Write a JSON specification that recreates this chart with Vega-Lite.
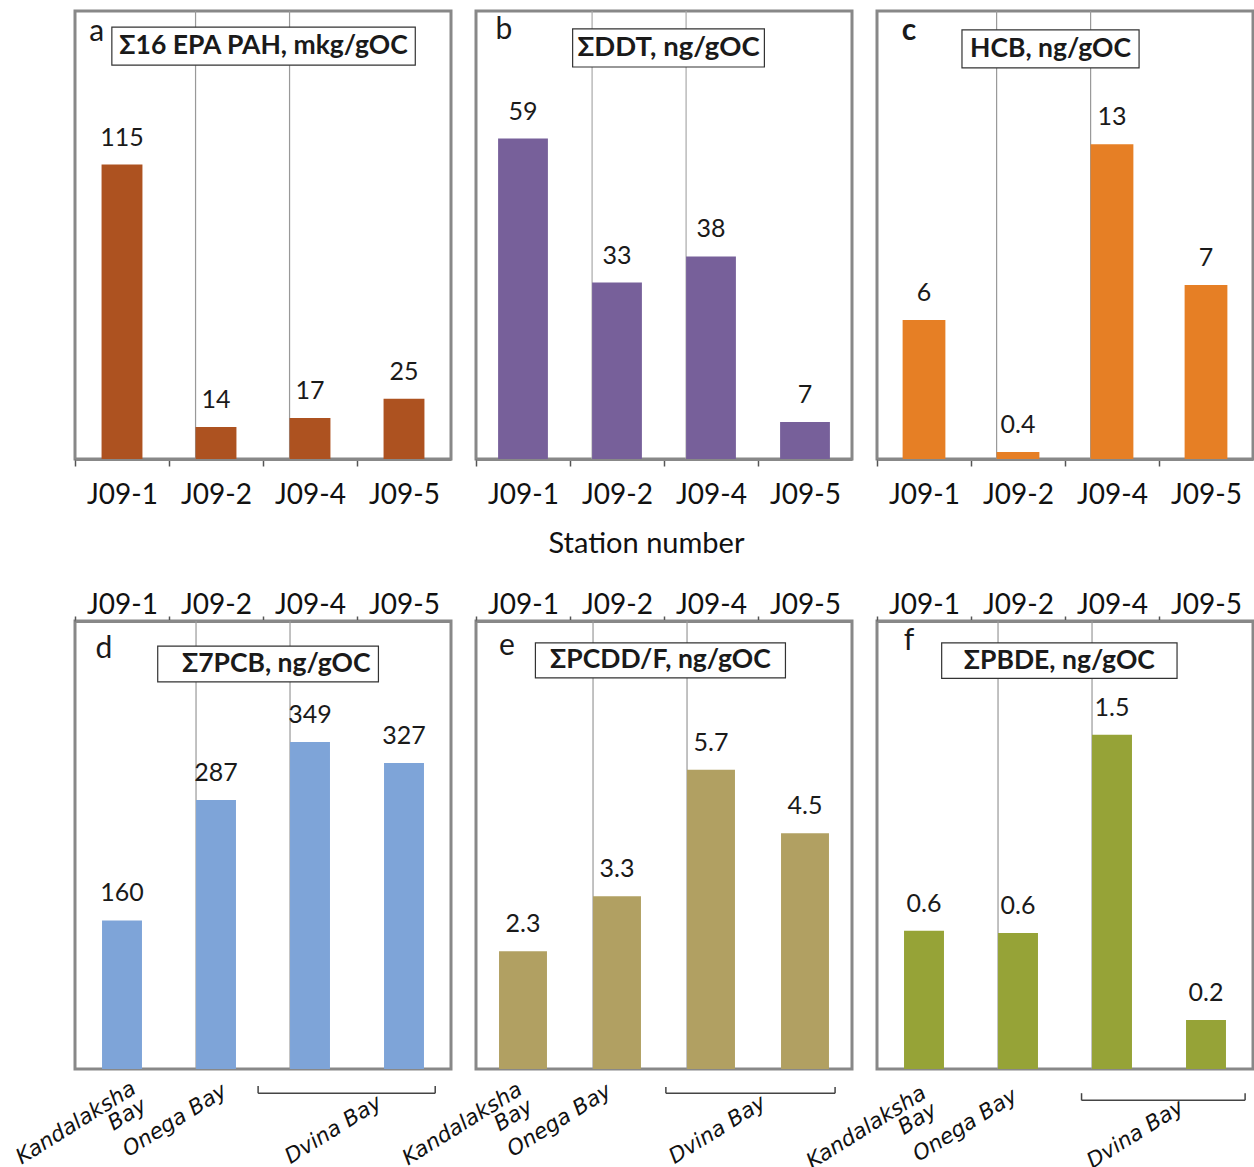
{
  "$schema": "https://vega.github.io/schema/vega-lite/v6.json",
  "background": "white",
  "padding": {"left": 11, "top": 8, "right": 0, "bottom": 0},
  "config": {
    "font": "Lato",
    "view": {"stroke": "#888888", "strokeWidth": 3},
    "axis": {"domainColor": "#888888", "domainWidth": 3, "tickColor": "#555555", "tickWidth": 1.5, "tickSize": 7, "bandPosition": 0, "labelFontSize": 28, "labelColor": "#111111", "labelFont": "Lato", "labelAlign": "center", "grid": false},
    "text": {"color": "#1a1a1a", "font": "Lato"}
  },
  "columns": 3,
  "spacing": {"row": 162, "column": 25},
  "bounds": "flush",
  "concat": [
        {
          "width": 376, "height": 448,
          "data": {"values": [
            {"station": "J09-1", "value": 115, "label": "115"},
            {"station": "J09-2", "value": 12.5, "label": "14"},
            {"station": "J09-4", "value": 16, "label": "17"},
            {"station": "J09-5", "value": 23.5, "label": "25"}
          ]},
          "layer": [
            {
              "layer": [
                {"transform": [{"filter": {"field": "station", "oneOf": ["J09-2", "J09-4"]}}],
                 "mark": {"type": "rule", "color": "#999999", "strokeWidth": 1.2},
                 "encoding": {"x": {"field": "station", "type": "nominal", "sort": null, "bandPosition": 0}}},
                {"mark": {"type": "bar", "color": "#AD5220"},
                 "encoding": {
                   "x": {"field": "station", "type": "nominal", "sort": null, "scale": {"domain": ["J09-1", "J09-2", "J09-4", "J09-5"], "paddingInner": 0.565, "paddingOuter": 0.2825}, "axis": {"orient": "bottom", "labelAngle": 0, "labelBaseline": "top", "labelPadding": 15, "tickOffset": -26.6, "labelOffset": 26.6, "title": null}},
                   "y": {"field": "value", "type": "quantitative", "scale": {"domain": [0, 175], "nice": false}, "axis": null}}},
                {"mark": {"type": "text", "fontSize": 25, "baseline": "alphabetic", "dy": -19},
                 "encoding": {
                   "x": {"field": "station", "type": "nominal", "sort": null},
                   "y": {"field": "value", "type": "quantitative"},
                   "text": {"field": "label"}}}
              ]
            },
            {
              "data": {"values": [{}]},
              "layer": [
                {"mark": {"type": "rect", "fill": "white", "stroke": "#333333", "strokeWidth": 1.2},
                 "encoding": {"x": {"datum": 0.098, "type": "quantitative", "scale": {"domain": [0, 1]}, "axis": null}, "x2": {"datum": 0.905},
                              "y": {"datum": 0.964, "type": "quantitative", "scale": {"domain": [0, 1]}, "axis": null}, "y2": {"datum": 0.879}}},
                {"mark": {"type": "text", "fontSize": 26.5, "fontWeight": "bold", "align": "center", "baseline": "middle"},
                 "encoding": {"x": {"datum": 0.5015, "type": "quantitative"}, "y": {"datum": 0.9215, "type": "quantitative"}, "text": {"value": "Σ16 EPA PAH, mkg/gOC"}}},
                {"mark": {"type": "text", "fontSize": 30, "align": "center", "baseline": "middle"},
                 "encoding": {"x": {"datum": 0.058, "type": "quantitative"}, "y": {"datum": 0.953, "type": "quantitative"}, "text": {"value": "a"}}}
              ]
            }
          ],
          "resolve": {"scale": {"x": "independent", "y": "independent"}}
        },
        {
          "width": 376, "height": 448,
          "data": {"values": [
            {"station": "J09-1", "value": 59, "label": "59"},
            {"station": "J09-2", "value": 32.5, "label": "33"},
            {"station": "J09-4", "value": 37.3, "label": "38"},
            {"station": "J09-5", "value": 6.8, "label": "7"}
          ]},
          "layer": [
            {
              "layer": [
                {"transform": [{"filter": {"field": "station", "oneOf": ["J09-2", "J09-4"]}}],
                 "mark": {"type": "rule", "color": "#aaaaaa", "strokeWidth": 1.2},
                 "encoding": {"x": {"field": "station", "type": "nominal", "sort": null, "bandPosition": 0}}},
                {"mark": {"type": "bar", "color": "#77609A"},
                 "encoding": {
                   "x": {"field": "station", "type": "nominal", "sort": null, "scale": {"domain": ["J09-1", "J09-2", "J09-4", "J09-5"], "paddingInner": 0.47, "paddingOuter": 0.235}, "axis": {"orient": "bottom", "labelAngle": 0, "labelBaseline": "top", "labelPadding": 15, "tickOffset": -22.1, "labelOffset": 22.1, "title": "Station number", "titleFont": "Lato", "titleFontSize": 29, "titleFontWeight": "normal", "titleColor": "#111111", "titlePadding": 20, "titleX": 170}},
                   "y": {"field": "value", "type": "quantitative", "scale": {"domain": [0, 82.5], "nice": false}, "axis": null}}},
                {"mark": {"type": "text", "fontSize": 25, "baseline": "alphabetic", "dy": -19},
                 "encoding": {
                   "x": {"field": "station", "type": "nominal", "sort": null},
                   "y": {"field": "value", "type": "quantitative"},
                   "text": {"field": "label"}}}
              ]
            },
            {
              "data": {"values": [{}]},
              "layer": [
                {"mark": {"type": "rect", "fill": "white", "stroke": "#333333", "strokeWidth": 1.2},
                 "encoding": {"x": {"datum": 0.257, "type": "quantitative", "scale": {"domain": [0, 1]}, "axis": null}, "x2": {"datum": 0.767},
                              "y": {"datum": 0.960, "type": "quantitative", "scale": {"domain": [0, 1]}, "axis": null}, "y2": {"datum": 0.875}}},
                {"mark": {"type": "text", "fontSize": 27.5, "fontWeight": "bold", "align": "center", "baseline": "middle"},
                 "encoding": {"x": {"datum": 0.512, "type": "quantitative"}, "y": {"datum": 0.9175, "type": "quantitative"}, "text": {"value": "ΣDDT, ng/gOC"}}},
                {"mark": {"type": "text", "fontSize": 30, "align": "center", "baseline": "middle"},
                 "encoding": {"x": {"datum": 0.074, "type": "quantitative"}, "y": {"datum": 0.958, "type": "quantitative"}, "text": {"value": "b"}}}
              ]
            }
          ],
          "resolve": {"scale": {"x": "independent", "y": "independent"}}
        },
        {
          "width": 376, "height": 448,
          "data": {"values": [
            {"station": "J09-1", "value": 5.74, "label": "6"},
            {"station": "J09-2", "value": 0.29, "label": "0.4"},
            {"station": "J09-4", "value": 13, "label": "13"},
            {"station": "J09-5", "value": 7.19, "label": "7"}
          ]},
          "layer": [
            {
              "layer": [
                {"transform": [{"filter": {"field": "station", "oneOf": ["J09-2", "J09-4"]}}],
                 "mark": {"type": "rule", "color": "#999999", "strokeWidth": 1.2},
                 "encoding": {"x": {"field": "station", "type": "nominal", "sort": null, "bandPosition": 0}}},
                {"mark": {"type": "bar", "color": "#E67F25"},
                 "encoding": {
                   "x": {"field": "station", "type": "nominal", "sort": null, "scale": {"domain": ["J09-1", "J09-2", "J09-4", "J09-5"], "paddingInner": 0.545, "paddingOuter": 0.2725}, "axis": {"orient": "bottom", "labelAngle": 0, "labelBaseline": "top", "labelPadding": 15, "tickOffset": -25.6, "labelOffset": 25.6, "title": null}},
                   "y": {"field": "value", "type": "quantitative", "scale": {"domain": [0, 18.5], "nice": false}, "axis": null}}},
                {"mark": {"type": "text", "fontSize": 25, "baseline": "alphabetic", "dy": -19},
                 "encoding": {
                   "x": {"field": "station", "type": "nominal", "sort": null},
                   "y": {"field": "value", "type": "quantitative"},
                   "text": {"field": "label"}}}
              ]
            },
            {
              "data": {"values": [{}]},
              "layer": [
                {"mark": {"type": "rect", "fill": "white", "stroke": "#333333", "strokeWidth": 1.2},
                 "encoding": {"x": {"datum": 0.226, "type": "quantitative", "scale": {"domain": [0, 1]}, "axis": null}, "x2": {"datum": 0.697},
                              "y": {"datum": 0.958, "type": "quantitative", "scale": {"domain": [0, 1]}, "axis": null}, "y2": {"datum": 0.873}}},
                {"mark": {"type": "text", "fontSize": 26.5, "fontWeight": "bold", "align": "center", "baseline": "middle"},
                 "encoding": {"x": {"datum": 0.4615, "type": "quantitative"}, "y": {"datum": 0.9155, "type": "quantitative"}, "text": {"value": "HCB, ng/gOC"}}},
                {"mark": {"type": "text", "fontSize": 30, "fontWeight": "bold", "align": "center", "baseline": "middle"},
                 "encoding": {"x": {"datum": 0.085, "type": "quantitative"}, "y": {"datum": 0.955, "type": "quantitative"}, "text": {"value": "c"}}}
              ]
            }
          ],
          "resolve": {"scale": {"x": "independent", "y": "independent"}}
        },
        {
          "width": 376, "height": 448,
          "data": {"values": [
            {"station": "J09-1", "value": 158.5, "label": "160"},
            {"station": "J09-2", "value": 287, "label": "287"},
            {"station": "J09-4", "value": 349, "label": "349"},
            {"station": "J09-5", "value": 326.6, "label": "327"}
          ]},
          "layer": [
            {
              "layer": [
                {"transform": [{"filter": {"field": "station", "oneOf": ["J09-2", "J09-4"]}}],
                 "mark": {"type": "rule", "color": "#999999", "strokeWidth": 1.2},
                 "encoding": {"x": {"field": "station", "type": "nominal", "sort": null, "bandPosition": 0}}},
                {"mark": {"type": "bar", "color": "#7EA4D8"},
                 "encoding": {
                   "x": {"field": "station", "type": "nominal", "sort": null, "scale": {"domain": ["J09-1", "J09-2", "J09-4", "J09-5"], "paddingInner": 0.575, "paddingOuter": 0.2875}, "axis": {"orient": "top", "labelAngle": 0, "labelBaseline": "bottom", "labelPadding": -3, "tickSize": 5, "tickOffset": -27, "labelOffset": 27, "title": null}},
                   "y": {"field": "value", "type": "quantitative", "scale": {"domain": [0, 478], "nice": false}, "axis": null}}},
                {"mark": {"type": "text", "fontSize": 25, "baseline": "alphabetic", "dy": -19},
                 "encoding": {
                   "x": {"field": "station", "type": "nominal", "sort": null},
                   "y": {"field": "value", "type": "quantitative"},
                   "text": {"field": "label"}}}
              ]
            },
            {
              "data": {"values": [{}]},
              "layer": [
                {"mark": {"type": "rect", "fill": "white", "stroke": "#333333", "strokeWidth": 1.2},
                 "encoding": {"x": {"datum": 0.220, "type": "quantitative", "scale": {"domain": [0, 1]}, "axis": null}, "x2": {"datum": 0.807},
                              "y": {"datum": 0.944, "type": "quantitative", "scale": {"domain": [0, 1]}, "axis": null}, "y2": {"datum": 0.864}}},
                {"mark": {"type": "text", "fontSize": 26.5, "fontWeight": "bold", "align": "center", "baseline": "middle"},
                 "encoding": {"x": {"datum": 0.535, "type": "quantitative"}, "y": {"datum": 0.904, "type": "quantitative"}, "text": {"value": "Σ7PCB, ng/gOC"}}},
                {"mark": {"type": "text", "fontSize": 30, "align": "center", "baseline": "middle"},
                 "encoding": {"x": {"datum": 0.077, "type": "quantitative"}, "y": {"datum": 0.9375, "type": "quantitative"}, "text": {"value": "d"}}},
                {"mark": {"type": "text", "angle": -32, "align": "right", "baseline": "top", "font": "DejaVu Sans", "fontStyle": "italic", "fontSize": 21.5, "lineHeight": 20, "color": "#111111"},
                 "encoding": {"x": {"datum": 0.142, "type": "quantitative"}, "y": {"datum": -0.020, "type": "quantitative"}, "text": {"value": ["Kandalaksha", "Bay"]}}},
                {"mark": {"type": "text", "angle": -32, "align": "right", "baseline": "top", "font": "DejaVu Sans", "fontStyle": "italic", "fontSize": 21.5, "color": "#111111"},
                 "encoding": {"x": {"datum": 0.384, "type": "quantitative"}, "y": {"datum": -0.025, "type": "quantitative"}, "text": {"value": "Onega Bay"}}},
                {"mark": {"type": "text", "angle": -32, "align": "right", "baseline": "top", "font": "DejaVu Sans", "fontStyle": "italic", "fontSize": 21.5, "color": "#111111"},
                 "encoding": {"x": {"datum": 0.796, "type": "quantitative"}, "y": {"datum": -0.051, "type": "quantitative"}, "text": {"value": "Dvina Bay"}}},
                {"mark": {"type": "rule", "color": "#444444", "strokeWidth": 1.5},
                 "encoding": {"x": {"datum": 0.487, "type": "quantitative"}, "x2": {"datum": 0.958}, "y": {"datum": -0.054, "type": "quantitative"}}},
                {"mark": {"type": "rule", "color": "#444444", "strokeWidth": 1.5},
                 "encoding": {"x": {"datum": 0.487, "type": "quantitative"}, "y": {"datum": -0.054, "type": "quantitative"}, "y2": {"datum": -0.038}}},
                {"mark": {"type": "rule", "color": "#444444", "strokeWidth": 1.5},
                 "encoding": {"x": {"datum": 0.958, "type": "quantitative"}, "y": {"datum": -0.054, "type": "quantitative"}, "y2": {"datum": -0.038}}}
              ]
            }
          ],
          "resolve": {"scale": {"x": "independent", "y": "independent"}}
        },
        {
          "width": 376, "height": 448,
          "data": {"values": [
            {"station": "J09-1", "value": 2.24, "label": "2.3"},
            {"station": "J09-2", "value": 3.29, "label": "3.3"},
            {"station": "J09-4", "value": 5.7, "label": "5.7"},
            {"station": "J09-5", "value": 4.49, "label": "4.5"}
          ]},
          "layer": [
            {
              "layer": [
                {"transform": [{"filter": {"field": "station", "oneOf": ["J09-2", "J09-4"]}}],
                 "mark": {"type": "rule", "color": "#999999", "strokeWidth": 1.2},
                 "encoding": {"x": {"field": "station", "type": "nominal", "sort": null, "bandPosition": 0}}},
                {"mark": {"type": "bar", "color": "#B1A062"},
                 "encoding": {
                   "x": {"field": "station", "type": "nominal", "sort": null, "scale": {"domain": ["J09-1", "J09-2", "J09-4", "J09-5"], "paddingInner": 0.49, "paddingOuter": 0.245}, "axis": {"orient": "top", "labelAngle": 0, "labelBaseline": "bottom", "labelPadding": -3, "tickSize": 5, "tickOffset": -23, "labelOffset": 23, "title": null}},
                   "y": {"field": "value", "type": "quantitative", "scale": {"domain": [0, 8.53], "nice": false}, "axis": null}}},
                {"mark": {"type": "text", "fontSize": 25, "baseline": "alphabetic", "dy": -19},
                 "encoding": {
                   "x": {"field": "station", "type": "nominal", "sort": null},
                   "y": {"field": "value", "type": "quantitative"},
                   "text": {"field": "label"}}}
              ]
            },
            {
              "data": {"values": [{}]},
              "layer": [
                {"mark": {"type": "rect", "fill": "white", "stroke": "#333333", "strokeWidth": 1.2},
                 "encoding": {"x": {"datum": 0.158, "type": "quantitative", "scale": {"domain": [0, 1]}, "axis": null}, "x2": {"datum": 0.823},
                              "y": {"datum": 0.951, "type": "quantitative", "scale": {"domain": [0, 1]}, "axis": null}, "y2": {"datum": 0.873}}},
                {"mark": {"type": "text", "fontSize": 26.5, "fontWeight": "bold", "align": "center", "baseline": "middle"},
                 "encoding": {"x": {"datum": 0.4905, "type": "quantitative"}, "y": {"datum": 0.912, "type": "quantitative"}, "text": {"value": "ΣPCDD/F, ng/gOC"}}},
                {"mark": {"type": "text", "fontSize": 30, "align": "center", "baseline": "middle"},
                 "encoding": {"x": {"datum": 0.082, "type": "quantitative"}, "y": {"datum": 0.944, "type": "quantitative"}, "text": {"value": "e"}}},
                {"mark": {"type": "text", "angle": -32, "align": "right", "baseline": "top", "font": "DejaVu Sans", "fontStyle": "italic", "fontSize": 21.5, "lineHeight": 20, "color": "#111111"},
                 "encoding": {"x": {"datum": 0.103, "type": "quantitative"}, "y": {"datum": -0.022, "type": "quantitative"}, "text": {"value": ["Kandalaksha", "Bay"]}}},
                {"mark": {"type": "text", "angle": -32, "align": "right", "baseline": "top", "font": "DejaVu Sans", "fontStyle": "italic", "fontSize": 21.5, "color": "#111111"},
                 "encoding": {"x": {"datum": 0.340, "type": "quantitative"}, "y": {"datum": -0.025, "type": "quantitative"}, "text": {"value": "Onega Bay"}}},
                {"mark": {"type": "text", "angle": -32, "align": "right", "baseline": "top", "font": "DejaVu Sans", "fontStyle": "italic", "fontSize": 21.5, "color": "#111111"},
                 "encoding": {"x": {"datum": 0.751, "type": "quantitative"}, "y": {"datum": -0.051, "type": "quantitative"}, "text": {"value": "Dvina Bay"}}},
                {"mark": {"type": "rule", "color": "#444444", "strokeWidth": 1.5},
                 "encoding": {"x": {"datum": 0.505, "type": "quantitative"}, "x2": {"datum": 0.955}, "y": {"datum": -0.054, "type": "quantitative"}}},
                {"mark": {"type": "rule", "color": "#444444", "strokeWidth": 1.5},
                 "encoding": {"x": {"datum": 0.505, "type": "quantitative"}, "y": {"datum": -0.054, "type": "quantitative"}, "y2": {"datum": -0.040}}},
                {"mark": {"type": "rule", "color": "#444444", "strokeWidth": 1.5},
                 "encoding": {"x": {"datum": 0.955, "type": "quantitative"}, "y": {"datum": -0.054, "type": "quantitative"}, "y2": {"datum": -0.040}}}
              ]
            }
          ],
          "resolve": {"scale": {"x": "independent", "y": "independent"}}
        },
        {
          "width": 376, "height": 448,
          "data": {"values": [
            {"station": "J09-1", "value": 0.62, "label": "0.6"},
            {"station": "J09-2", "value": 0.61, "label": "0.6"},
            {"station": "J09-4", "value": 1.5, "label": "1.5"},
            {"station": "J09-5", "value": 0.22, "label": "0.2"}
          ]},
          "layer": [
            {
              "layer": [
                {"transform": [{"filter": {"field": "station", "oneOf": ["J09-2", "J09-4"]}}],
                 "mark": {"type": "rule", "color": "#999999", "strokeWidth": 1.2},
                 "encoding": {"x": {"field": "station", "type": "nominal", "sort": null, "bandPosition": 0}}},
                {"mark": {"type": "bar", "color": "#96A337"},
                 "encoding": {
                   "x": {"field": "station", "type": "nominal", "sort": null, "scale": {"domain": ["J09-1", "J09-2", "J09-4", "J09-5"], "paddingInner": 0.575, "paddingOuter": 0.2875}, "axis": {"orient": "top", "labelAngle": 0, "labelBaseline": "bottom", "labelPadding": -3, "tickSize": 5, "tickOffset": -27, "labelOffset": 27, "title": null}},
                   "y": {"field": "value", "type": "quantitative", "scale": {"domain": [0, 2.01], "nice": false}, "axis": null}}},
                {"mark": {"type": "text", "fontSize": 25, "baseline": "alphabetic", "dy": -19},
                 "encoding": {
                   "x": {"field": "station", "type": "nominal", "sort": null},
                   "y": {"field": "value", "type": "quantitative"},
                   "text": {"field": "label"}}}
              ]
            },
            {
              "data": {"values": [{}]},
              "layer": [
                {"mark": {"type": "rect", "fill": "white", "stroke": "#333333", "strokeWidth": 1.2},
                 "encoding": {"x": {"datum": 0.172, "type": "quantitative", "scale": {"domain": [0, 1]}, "axis": null}, "x2": {"datum": 0.798},
                              "y": {"datum": 0.951, "type": "quantitative", "scale": {"domain": [0, 1]}, "axis": null}, "y2": {"datum": 0.872}}},
                {"mark": {"type": "text", "fontSize": 26.5, "fontWeight": "bold", "align": "center", "baseline": "middle"},
                 "encoding": {"x": {"datum": 0.485, "type": "quantitative"}, "y": {"datum": 0.9115, "type": "quantitative"}, "text": {"value": "ΣPBDE, ng/gOC"}}},
                {"mark": {"type": "text", "fontSize": 30, "align": "center", "baseline": "middle"},
                 "encoding": {"x": {"datum": 0.085, "type": "quantitative"}, "y": {"datum": 0.955, "type": "quantitative"}, "text": {"value": "f"}}},
                {"mark": {"type": "text", "angle": -32, "align": "right", "baseline": "top", "font": "DejaVu Sans", "fontStyle": "italic", "fontSize": 21.5, "lineHeight": 20, "color": "#111111"},
                 "encoding": {"x": {"datum": 0.111, "type": "quantitative"}, "y": {"datum": -0.030, "type": "quantitative"}, "text": {"value": ["Kandalaksha", "Bay"]}}},
                {"mark": {"type": "text", "angle": -32, "align": "right", "baseline": "top", "font": "DejaVu Sans", "fontStyle": "italic", "fontSize": 21.5, "color": "#111111"},
                 "encoding": {"x": {"datum": 0.353, "type": "quantitative"}, "y": {"datum": -0.036, "type": "quantitative"}, "text": {"value": "Onega Bay"}}},
                {"mark": {"type": "text", "angle": -32, "align": "right", "baseline": "top", "font": "DejaVu Sans", "fontStyle": "italic", "fontSize": 21.5, "color": "#111111"},
                 "encoding": {"x": {"datum": 0.796, "type": "quantitative"}, "y": {"datum": -0.061, "type": "quantitative"}, "text": {"value": "Dvina Bay"}}},
                {"mark": {"type": "rule", "color": "#444444", "strokeWidth": 1.5},
                 "encoding": {"x": {"datum": 0.544, "type": "quantitative"}, "x2": {"datum": 0.979}, "y": {"datum": -0.070, "type": "quantitative"}}},
                {"mark": {"type": "rule", "color": "#444444", "strokeWidth": 1.5},
                 "encoding": {"x": {"datum": 0.544, "type": "quantitative"}, "y": {"datum": -0.070, "type": "quantitative"}, "y2": {"datum": -0.054}}},
                {"mark": {"type": "rule", "color": "#444444", "strokeWidth": 1.5},
                 "encoding": {"x": {"datum": 0.979, "type": "quantitative"}, "y": {"datum": -0.070, "type": "quantitative"}, "y2": {"datum": -0.054}}}
              ]
            }
          ],
          "resolve": {"scale": {"x": "independent", "y": "independent"}}
        }
  ]
}
